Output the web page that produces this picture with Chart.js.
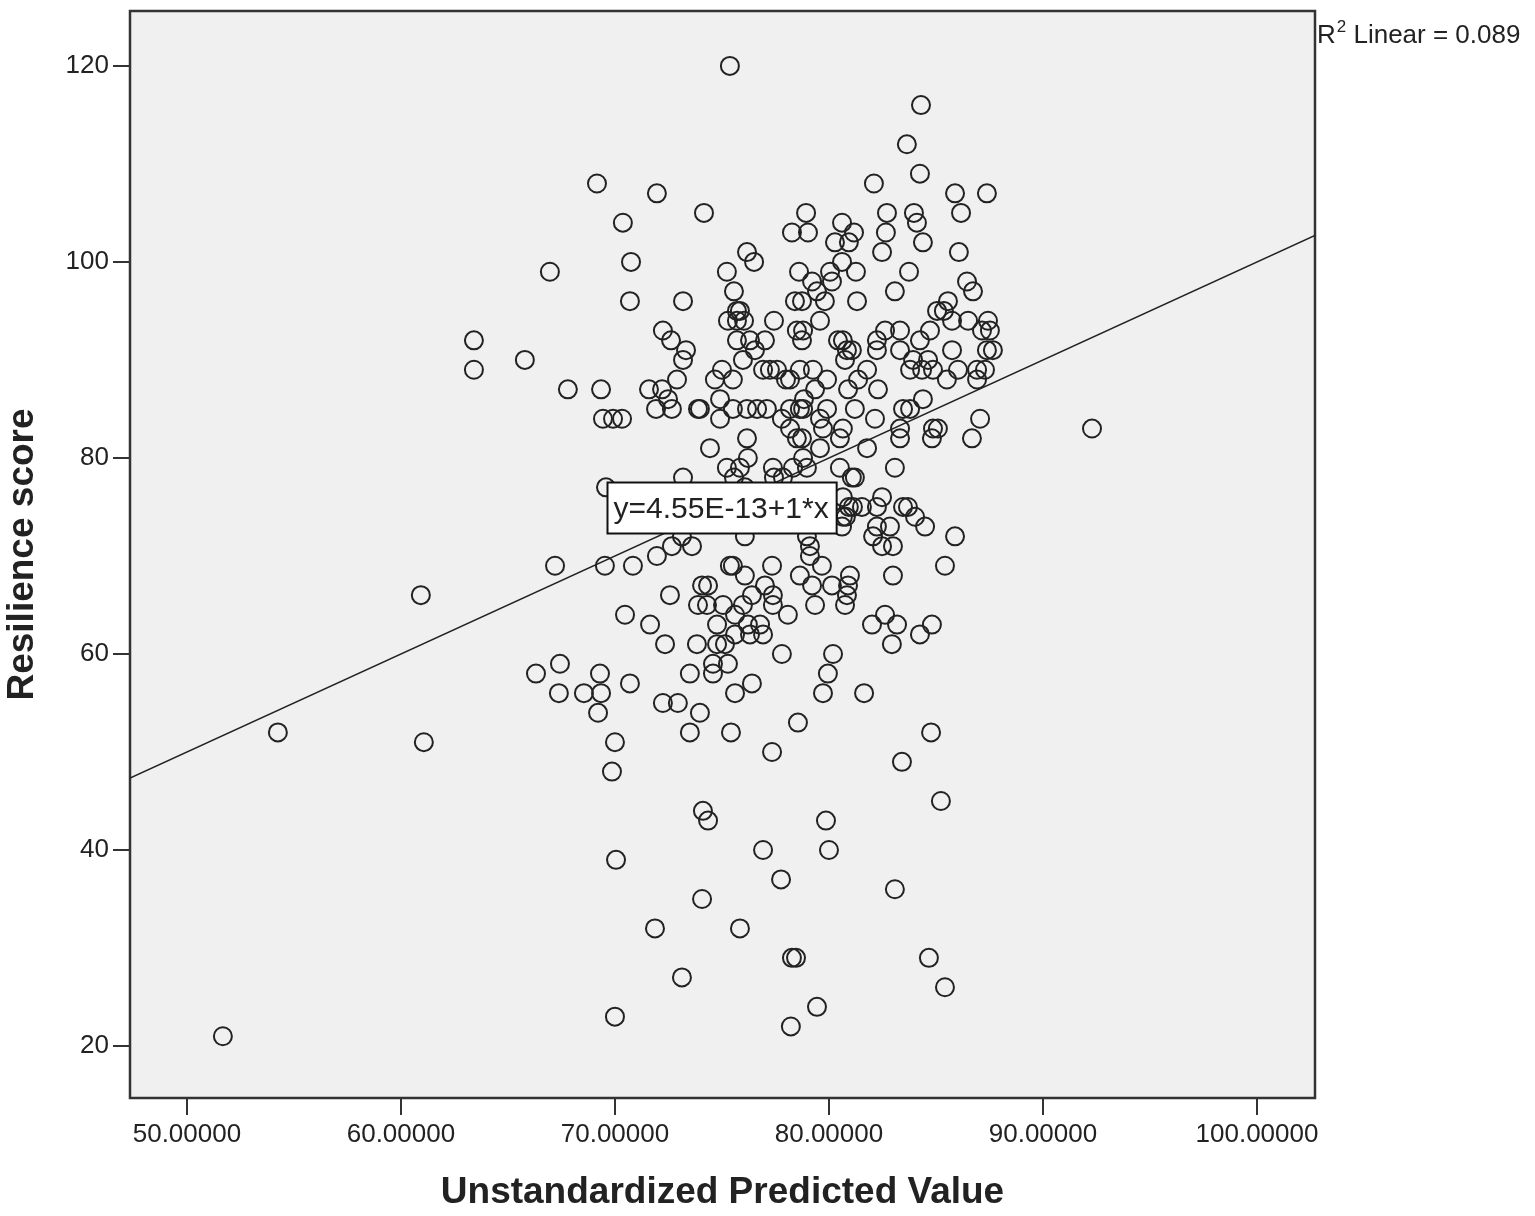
<!DOCTYPE html>
<html>
<head>
<meta charset="utf-8">
<title>Resilience score vs unstandardized predicted value</title>
<script src="https://cdn.jsdelivr.net/npm/chart.js@4.4.1/dist/chart.umd.min.js"></script>
<style>
  html, body { margin: 0; padding: 0; background: #fff; }
  #wrap { width: 1535px; height: 1216px; }
</style>
</head>
<body>
<div id="wrap"><canvas id="scatter"></canvas></div>
<script>
// resilience score levels, and the predicted values of the cases at each level
const scores = [120, 116, 112, 109, 108, 107, 105, 104, 103, 102, 101, 100, 99, 98, 97, 96, 95, 94, 93, 92,
  91, 90, 89, 88, 87, 86, 85, 84, 83, 82, 81, 80, 79, 78, 77, 76, 75, 74, 73, 72,
  71, 70, 69, 68, 67, 66, 65, 64, 63, 62, 61, 60, 59, 58, 57, 56, 55, 54, 53, 52,
  51, 50, 49, 48, 45, 44, 43, 40, 39, 37, 36, 35, 32, 29, 27, 26, 24, 23, 22, 21];
const predictedByScore = [
  [75.37], [84.30], [83.64], [84.25], [69.16, 82.10], [71.96, 85.89, 87.38],
  [74.16, 78.93, 82.71, 83.97, 86.17],
  [70.37, 80.61, 84.11],
  [78.27, 79.02, 81.17, 82.66],
  [80.28, 80.93, 84.39],
  [76.17, 82.48, 86.07],
  [70.75, 76.50, 80.61],
  [66.96, 75.23, 78.60, 80.05, 81.26, 83.74],
  [79.21, 80.14, 86.45],
  [75.56, 79.44, 83.08, 86.73],
  [70.70, 73.18, 78.41, 78.74, 79.81, 81.31, 85.56],
  [75.70, 75.84, 85.05, 85.37],
  [75.28, 75.70, 76.03, 77.43, 79.58, 85.75, 86.50, 87.43],
  [72.24, 78.50, 78.79, 82.62, 83.32, 84.72, 87.15, 87.52],
  [63.41, 72.62, 75.70, 76.31, 77.01, 78.74, 80.42, 80.65, 82.24, 84.25],
  [73.32, 76.54, 80.84, 81.07, 82.24, 83.32, 85.75, 87.38, 87.66],
  [65.79, 73.18, 75.98, 80.75, 83.93, 84.63],
  [63.41, 75.00, 76.92, 77.24, 77.57, 78.64, 79.25, 81.78, 83.79, 84.35, 84.86, 86.03, 86.92, 87.29],
  [72.90, 74.67, 75.51, 77.99, 78.18, 79.91, 81.36, 85.51, 86.92],
  [67.80, 69.35, 71.59, 72.20, 79.35, 80.89, 82.29],
  [72.48, 74.91, 78.83, 84.39],
  [71.92, 72.66, 73.88, 73.97, 75.51, 76.17, 76.64, 77.10, 78.18, 78.64, 78.79, 79.91, 81.21, 83.46, 83.79],
  [69.44, 69.91, 70.33, 74.91, 77.80, 79.58, 82.15, 87.06],
  [78.18, 79.72, 80.65, 83.32, 84.86, 85.09, 92.29],
  [76.17, 78.50, 78.74, 80.51, 83.32, 84.81, 86.68],
  [74.44, 79.58, 81.78],
  [76.21, 78.79],
  [75.23, 75.84, 77.38, 78.32, 78.97, 80.51, 83.08],
  [73.18, 75.56, 77.43, 77.85, 81.07, 81.21],
  [69.58, 76.07],
  [80.65, 82.48],
  [80.93, 81.12, 81.54, 82.24, 83.46, 83.69],
  [80.65, 80.79, 84.02],
  [80.61, 82.24, 82.85, 84.49],
  [73.13, 76.07, 78.97, 82.06, 85.89],
  [72.66, 73.60, 79.11, 82.48, 82.99],
  [71.96, 79.11],
  [67.20, 69.53, 70.84, 75.37, 75.51, 77.34, 79.67, 85.42],
  [76.07, 78.64, 80.98, 82.99],
  [74.07, 74.35, 77.01, 79.21, 80.14, 80.89],
  [60.93, 72.57, 76.40, 77.38, 80.84],
  [73.88, 74.30, 75.05, 75.98, 77.38, 79.35, 80.75],
  [70.47, 75.61, 78.08, 82.62],
  [71.64, 74.77, 76.21, 76.78, 82.01, 83.18, 84.81],
  [75.61, 76.31, 76.92, 84.25],
  [72.34, 73.83, 74.77, 75.14, 82.94],
  [77.80, 80.19],
  [67.43, 74.58, 75.28],
  [66.31, 69.30, 73.50, 74.58, 79.95],
  [70.70, 76.40],
  [67.38, 68.55, 69.35, 75.61, 79.72, 81.64],
  [72.24, 72.94],
  [69.21, 73.97],
  [78.55],
  [54.25, 73.50, 75.42, 84.77],
  [61.07, 70.00],
  [77.34], [83.41], [69.86], [85.23], [74.11],
  [74.35, 79.86],
  [76.92, 80.00],
  [70.05], [77.76], [83.08], [74.07],
  [71.87, 75.84],
  [78.27, 78.46, 84.67],
  [73.13], [85.42], [79.44], [70.00], [78.22], [51.68]
];
const xTicks = [50, 60, 70, 80, 90, 100];
const yTicks = [20, 40, 60, 80, 100, 120];
const fitIntercept = 4.55e-13;
const fitSlope = 1;
const rSquared = 0.089;
const xRange = [47.34, 102.71];
const yRange = [14.7, 125.6];

var points = [];
scores.forEach(function (score, i) {
  predictedByScore[i].forEach(function (x) {
    points.push({ x: x, y: score });
  });
});
var fitPoints = xRange.map(function (x) {
  return { x: x, y: fitIntercept + fitSlope * x };
});

var FONT = "'Liberation Sans', Arial, sans-serif";
var INK = '#222';

// grey plot area, frame, equation label and R2 note like SPSS draws them
var spssDecor = {
  id: 'spssDecor',
  beforeDraw: function (chart) {
    var a = chart.chartArea, ctx = chart.ctx;
    ctx.save();
    ctx.fillStyle = '#f0f0f0';
    ctx.fillRect(a.left, a.top, a.right - a.left, a.bottom - a.top);
    ctx.restore();
  },
  beforeDatasetsDraw: function (chart) {
    var a = chart.chartArea, ctx = chart.ctx;
    ctx.save();
    ctx.strokeStyle = '#333';
    ctx.lineWidth = 2.5;
    ctx.strokeRect(a.left, a.top, a.right - a.left, a.bottom - a.top);
    ctx.restore();
  },
  afterDraw: function (chart) {
    var ctx = chart.ctx, a = chart.chartArea;
    var xs = chart.scales.x, ys = chart.scales.y;
    ctx.save();

    // equation box, anchored in data space
    var label = 'y=' + fitIntercept.toExponential(2).toUpperCase() + '+' + fitSlope + '*x';
    ctx.font = '30px ' + FONT;
    var w = ctx.measureText(label).width + 14;
    var bx = Math.round(xs.getPixelForValue(69.63)) + 0.5;
    var by = Math.round(ys.getPixelForValue(77.58)) + 0.5;
    ctx.fillStyle = '#fff';
    ctx.fillRect(bx, by, w, 51);
    ctx.strokeStyle = '#111';
    ctx.lineWidth = 2;
    ctx.strokeRect(bx, by, w, 51);
    ctx.fillStyle = INK;
    ctx.textBaseline = 'middle';
    ctx.textAlign = 'left';
    ctx.fillText(label, bx + 6, by + 27);

    // R2 note, just right of the frame
    var tx = a.right + 2, ty = a.top + 32;
    ctx.textBaseline = 'alphabetic';
    ctx.font = '26px ' + FONT;
    ctx.fillText('R', tx, ty);
    var rw = ctx.measureText('R').width;
    ctx.font = '17px ' + FONT;
    ctx.fillText('2', tx + rw + 1, ty - 11);
    var sw = ctx.measureText('2').width;
    ctx.font = '26px ' + FONT;
    ctx.fillText(' Linear = ' + rSquared.toFixed(3), tx + rw + sw + 1, ty);
    ctx.restore();
  }
};

new Chart(document.getElementById('scatter'), {
  type: 'scatter',
  data: {
    datasets: [{
      type: 'line',
      label: 'Linear fit',
      data: fitPoints,
      borderColor: INK,
      borderWidth: 1.6,
      pointRadius: 0,
      fill: false
    }, {
      label: 'Resilience score',
      data: points,
      pointStyle: 'circle',
      pointRadius: 9,
      pointBorderWidth: 2,
      borderColor: INK,
      backgroundColor: 'rgba(0,0,0,0)'
    }]
  },
  options: {
    responsive: true,
    maintainAspectRatio: false,
    animation: false,
    devicePixelRatio: 1,
    layout: { padding: { top: 5, right: 220, left: 0, bottom: 0 } },
    plugins: {
      legend: { display: false },
      tooltip: { enabled: false }
    },
    scales: {
      x: {
        type: 'linear',
        min: xRange[0],
        max: xRange[1],
        afterBuildTicks: function (scale) {
          scale.ticks = xTicks.map(function (v) { return { value: v }; });
        },
        afterFit: function (scale) {
          scale.height = 118;
          scale.paddingLeft = 0;
          scale.paddingRight = 0;
        },
        grid: { drawOnChartArea: false, drawTicks: true, tickLength: 17, color: '#333', lineWidth: 2 },
        border: { display: true, color: '#333', width: 2 },
        ticks: {
          padding: 4,
          maxRotation: 0,
          color: INK,
          font: { family: FONT, size: 26 },
          callback: function (v) { return Number(v).toFixed(5); }
        },
        title: {
          display: true,
          text: 'Unstandardized Predicted Value',
          color: INK,
          font: { family: FONT, size: 37, weight: 'bold' },
          padding: { top: 0, bottom: 1 }
        }
      },
      y: {
        type: 'linear',
        min: yRange[0],
        max: yRange[1],
        afterBuildTicks: function (scale) {
          scale.ticks = yTicks.map(function (v) { return { value: v }; });
        },
        afterFit: function (scale) {
          scale.width = 130;
          scale.paddingTop = 0;
          scale.paddingBottom = 0;
        },
        grid: { drawOnChartArea: false, drawTicks: true, tickLength: 17, color: '#333', lineWidth: 2 },
        border: { display: true, color: '#333', width: 2 },
        ticks: {
          padding: 4,
          color: INK,
          font: { family: FONT, size: 26 },
          callback: function (v) { return String(v); }
        },
        title: {
          display: true,
          text: 'Resilience score',
          color: INK,
          font: { family: FONT, size: 37, weight: 'bold' },
          padding: { top: 1, bottom: 0 }
        }
      }
    }
  },
  plugins: [spssDecor]
});
</script>
</body>
</html>
